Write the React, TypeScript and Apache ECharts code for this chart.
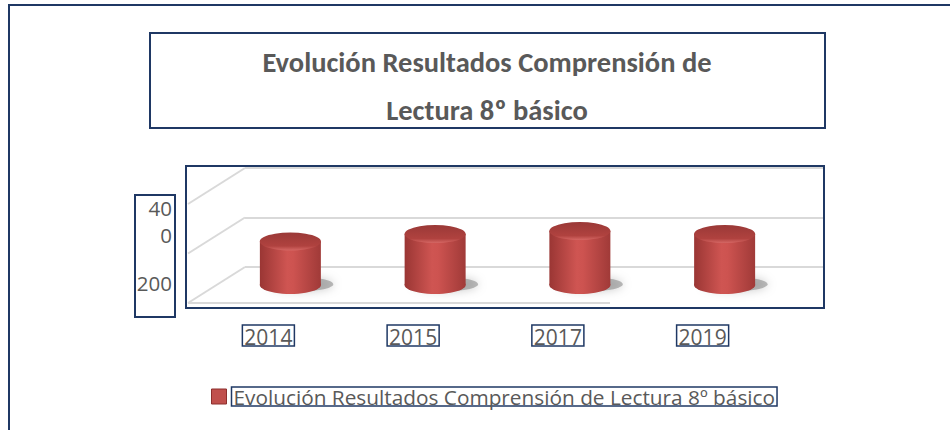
import React, { useEffect, useRef } from "react";
import * as echarts from "echarts";

const categories = ["2014", "2015", "2017", "2019"];
const values = [176, 206, 218, 206];
const seriesName = "Evolución Resultados Comprensión de Lectura 8º básico";
const titleLines = ["Evolución Resultados Comprensión de", "Lectura 8º básico"];
const yTickLabels = ["40", "0", "200"];
const yMin = 0;
const yMax = 400;
const yInterval = 200;

export default function App() {
  const ref = useRef<HTMLDivElement>(null);

  useEffect(() => {
    const chart = echarts.init(ref.current!, null, { renderer: "svg" });
    const NAVY = "#1f3864";
    const TXT = "#595959";
    const GRIDC = "#d9d9d9";
    const FONT = "'Open Sans', 'Noto Sans', sans-serif";
    const TFONT = "Carlito, 'Liberation Sans Narrow', 'Open Sans', sans-serif";

    const back = { left: 245, top: 168, width: 579, height: 99 };
    const depth = { dx: -57, dy: 36 };
    const mid = { left: back.left + depth.dx / 2 + 1.5, top: back.top + depth.dy / 2 };
    const labGrid = { left: mid.left - 22, top: mid.top, height: 118 };

    const bodyColor = new echarts.graphic.LinearGradient(0, 0, 1, 0, [
      { offset: 0, color: "#9a3634" },
      { offset: 0.45, color: "#cf5552" },
      { offset: 0.55, color: "#cd5350" },
      { offset: 1, color: "#a03a38" },
    ]);
    const topColor = new echarts.graphic.LinearGradient(0, 0, 0, 1, [
      { offset: 0, color: "#9a3937" },
      { offset: 0.75, color: "#b0423f" },
      { offset: 1, color: "#d56764" },
    ]);

    const staticGraphics: any[] = [
      { type: "rect", shape: { x: 9, y: 5, width: 1000, height: 500 }, style: { fill: "none", stroke: NAVY, lineWidth: 2 }, z: 100 },
      { type: "rect", shape: { x: 150, y: 33, width: 675, height: 95 }, style: { fill: "none", stroke: NAVY, lineWidth: 2 }, z: 100 },
      { type: "rect", shape: { x: 186, y: 166, width: 638, height: 142 }, style: { fill: "none", stroke: NAVY, lineWidth: 2 }, z: 100 },
      { type: "rect", shape: { x: 135, y: 195, width: 40, height: 122 }, style: { fill: "none", stroke: NAVY, lineWidth: 2 }, z: 100 },
      ...titleLines.map((t, i) => ({
        type: "text",
        x: 487,
        y: 62 + i * 48,
        style: { text: t, fill: TXT, font: `bold 28.5px ${TFONT}`, textAlign: "center", textVerticalAlign: "middle" },
        z: 100,
      })),
      ...yTickLabels.map((t, i) => ({
        type: "text",
        x: 172,
        y: [208, 235, 283][i],
        style: { text: t, fill: TXT, font: `20.5px ${FONT}`, lineHeight: 20, textAlign: "right", textVerticalAlign: "middle" },
        z: 100,
      })),
    ];

    const option: any = {
      animation: false,
      backgroundColor: "#ffffff",
      grid: [
        { left: back.left, top: back.top, width: back.width, height: back.height },
        { left: mid.left, top: mid.top, width: back.width, height: back.height },
        { left: labGrid.left, top: labGrid.top, width: back.width, height: labGrid.height },
      ],
      xAxis: [
        { type: "category", data: categories, gridIndex: 0, show: false },
        { type: "category", data: categories, gridIndex: 1, show: false },
        {
          type: "category",
          data: categories,
          gridIndex: 2,
          axisLine: { show: false },
          axisTick: { show: false },
          axisLabel: {
            margin: 21,
            fontSize: 21,
            fontFamily: FONT,
            color: TXT,
            borderColor: NAVY,
            borderWidth: 1.5,
            padding: [1, 2, -1, 2],
          },
        },
      ],
      yAxis: [
        {
          type: "value",
          gridIndex: 0,
          min: yMin,
          max: yMax,
          interval: yInterval,
          axisLabel: { show: false },
          axisLine: { show: false },
          axisTick: { show: false },
          splitLine: { show: true, lineStyle: { color: GRIDC, width: 2 } },
        },
        { type: "value", gridIndex: 1, min: yMin, max: yMax, show: false, splitLine: { show: false } },
        { type: "value", gridIndex: 2, min: yMin, max: yMax, show: false, splitLine: { show: false } },
      ],
      legend: {
        data: [{ name: seriesName, icon: "rect" }],
        left: 206,
        top: 381,
        itemWidth: 15,
        itemHeight: 15,
        itemGap: 5,
        itemStyle: { color: "#c0504d", borderColor: "#8c2f2d", borderWidth: 1 },
        textStyle: {
          fontSize: 20.8,
          fontFamily: FONT,
          color: TXT,
          borderColor: NAVY,
          borderWidth: 1.5,
          padding: [0, 2, -2, 2],
        },
      },
      series: [
        {
          type: "pictorialBar",
          name: "shadow",
          xAxisIndex: 1,
          yAxisIndex: 1,
          symbol: "circle",
          symbolSize: [64, 14],
          symbolPosition: "start",
          symbolOffset: [11, "45%"],
          data: values,
          z: 1,
          itemStyle: { color: "rgba(90,90,90,0.4)", shadowBlur: 10, shadowColor: "rgba(0,0,0,0.5)" },
          silent: true,
        },
        {
          type: "bar",
          name: seriesName,
          xAxisIndex: 1,
          yAxisIndex: 1,
          barWidth: 61,
          data: values,
          z: 2,
          itemStyle: { color: bodyColor },
        },
        {
          type: "pictorialBar",
          name: "base",
          xAxisIndex: 1,
          yAxisIndex: 1,
          symbol: "circle",
          symbolSize: [61, 18],
          symbolPosition: "start",
          symbolOffset: [0, "50%"],
          data: values,
          z: 2,
          itemStyle: { color: bodyColor },
        },
        {
          type: "pictorialBar",
          name: "top",
          xAxisIndex: 1,
          yAxisIndex: 1,
          symbol: "circle",
          symbolSize: [61, 18],
          symbolPosition: "end",
          symbolOffset: [0, "-50%"],
          data: values,
          z: 3,
          itemStyle: { color: topColor },
        },
      ],
      graphic: staticGraphics,
    };

    chart.setOption(option);

    const ticks: number[] = [];
    for (let v = yMin; v <= yMax; v += yInterval) ticks.push(v);
    const dyn: any[] = ticks.map((v) => {
      const y = chart.convertToPixel({ yAxisIndex: 0 }, v) as number;
      return {
        type: "line",
        shape: { x1: back.left, y1: y, x2: back.left + depth.dx, y2: y + depth.dy },
        style: { stroke: GRIDC, lineWidth: 2 },
        z: 0,
      };
    });
    const y0 = chart.convertToPixel({ yAxisIndex: 0 }, yMin) as number;
    dyn.push({
      type: "line",
      shape: { x1: back.left + depth.dx, y1: y0 + depth.dy, x2: 610, y2: y0 + depth.dy },
      style: { stroke: GRIDC, lineWidth: 2 },
      z: 0,
    });
    chart.setOption({ graphic: [...staticGraphics, ...dyn] });

    return () => chart.dispose();
  }, []);

  return <div ref={ref} style={{ position: "fixed", left: 0, top: 0, width: 950, height: 430, background: "#fff" }} />;
}
